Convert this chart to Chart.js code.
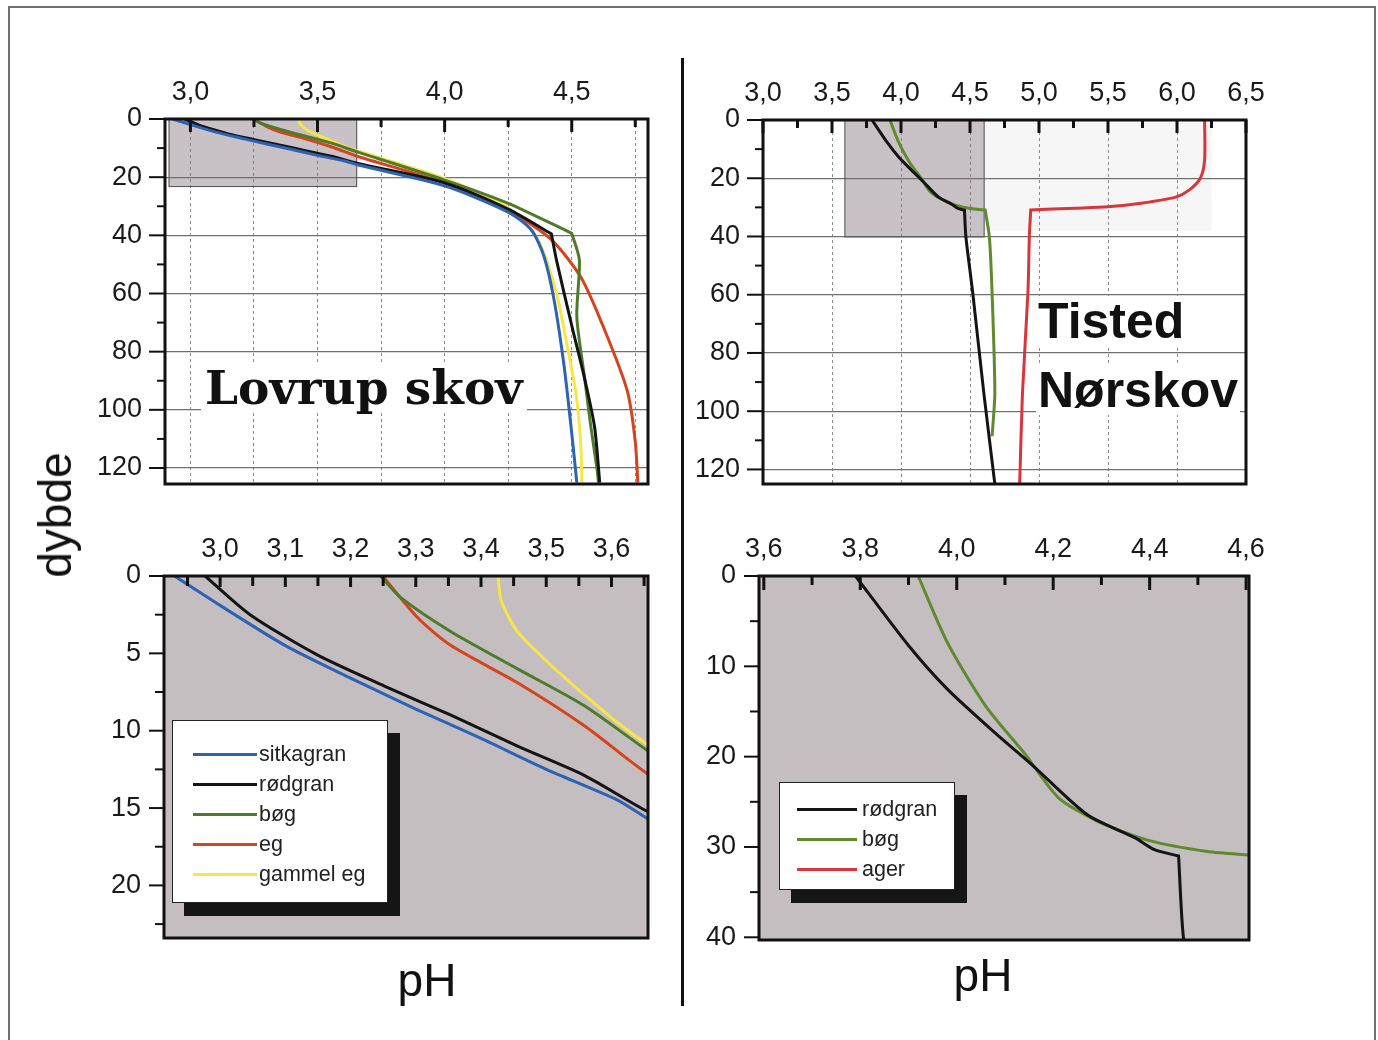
<!DOCTYPE html>
<html>
<head>
<meta charset="utf-8">
<script src="https://cdn.jsdelivr.net/npm/chart.js@4.4.1/dist/chart.umd.min.js"></script>
<style>
  html, body { margin: 0; padding: 0; background: #fff; }
  body { width: 1378px; height: 1040px; position: relative; overflow: hidden; font-family: "Liberation Sans", Arial, sans-serif; }
  canvas { position: absolute; }
  .frame { position: absolute; left: 8px; top: 6px; width: 1368px; height: 1100px; border: 2px solid #707070; box-sizing: border-box; }
  .divider { position: absolute; left: 681px; top: 58px; width: 3px; height: 948px; background: #111; }
  .title { position: absolute; background: #fff; color: #111; white-space: nowrap; line-height: 1; }
  .axis-title { position: absolute; font-size: 46px; color: #111; line-height: 1; transform: translate(-50%, -50%); }
  .legend { position: absolute; background: #fff; border: 1px solid #222; box-shadow: 12px 13px 0 #151515; color: #222; box-sizing: border-box; }
  .legend .row { display: flex; align-items: center; height: 30px; font-size: 21.5px; }
  .legend .sw { height: 3px; }
</style>
</head>
<body>
<div class="frame"></div>

<canvas id="lovrupTop" width="609" height="470" style="left:75px; top:59px;"></canvas>
<canvas id="tistedTop" width="609" height="469" style="left:673px; top:60px;"></canvas>
<canvas id="lovrupZoom" width="610" height="467" style="left:74px; top:516px;"></canvas>
<canvas id="tistedZoom" width="616" height="469" style="left:669px; top:516px;"></canvas>

<div class="divider"></div>

<div class="title" style="left:201px; top:364px; font-family:'DejaVu Serif', serif; font-weight:bold; font-size:47px; padding:0 4px;">Lovrup skov</div>
<div class="title" style="left:1036px; top:296px; font-family:'Liberation Sans', Arial, sans-serif; font-weight:bold; font-size:50px; padding:0 2px;">Tisted</div>
<div class="title" style="left:1036px; top:365px; font-family:'Liberation Sans', Arial, sans-serif; font-weight:bold; font-size:50px; padding:0 2px;">Nørskov</div>

<div class="axis-title" style="left:55px; top:515px; transform: translate(-50%, -50%) rotate(-90deg);">dybde</div>
<div class="axis-title" style="left:427px; top:980px;">pH</div>
<div class="axis-title" style="left:983px; top:975px;">pH</div>

<div class="legend" id="legendLovrup" style="left:172px; top:720px; width:216px; height:183px; padding:18px 0 0 20px;"></div>
<div class="legend" id="legendTisted" style="left:779px; top:782px; width:176px; height:108px; padding:11px 0 0 17px;"></div>

<script>
// ---- Lovrup skov: pH against depth (cm) ----
const lovrupNames = ['sitkagran', 'rødgran', 'bøg', 'eg', 'gammel eg'];
const lovrupColors = ['#2d62b4', '#141414', '#4f7a2b', '#d4441f', '#f7e645'];

const sitkaPH = [2.930, 3.000, 3.100, 3.200, 3.300, 3.400, 3.500, 3.610, 3.660, 4.00, 4.25, 4.34, 4.39, 4.43, 4.47, 4.50, 4.52];
const sitkaDepth = [0, 1.9, 4.5, 6.6, 8.6, 10.5, 12.5, 14.5, 15.8, 23.0, 32.0, 38.0, 47.0, 62.0, 85.0, 108.0, 125.0];

// corner points are listed twice so the curve keeps its kink
const roedLovrupPH = [2.977, 3.046, 3.149, 3.251, 3.354, 3.456, 3.559, 3.659, 4.00, 4.25, 4.42, 4.42, 4.44, 4.50, 4.55, 4.59, 4.61];
const roedLovrupDepth = [0, 2.5, 5.1, 7.1, 9.0, 11.0, 12.9, 15.3, 22.0, 31.0, 39.5, 39.5, 48.5, 71.0, 89.0, 106.0, 125.0];

const boegLovrupPH = [3.246, 3.277, 3.354, 3.456, 3.559, 3.659, 4.00, 4.25, 4.50, 4.50, 4.53, 4.52, 4.55, 4.575, 4.60, 4.605];
const boegLovrupDepth = [0, 1.4, 3.6, 6.0, 8.4, 11.4, 21.0, 29.0, 39.3, 39.3, 48.5, 68.0, 88.6, 105.7, 120.6, 125.0];

const egPH = [3.251, 3.303, 3.354, 3.456, 3.559, 3.659, 4.00, 4.28, 4.42, 4.54, 4.65, 4.72, 4.75, 4.76];
const egDepth = [0.1, 2.7, 4.5, 6.9, 9.7, 12.9, 22.0, 33.0, 41.5, 55.0, 77.0, 94.0, 111.0, 125.0];

const gammelEgPH = [3.426, 3.431, 3.456, 3.508, 3.559, 3.610, 3.659, 4.00, 4.25, 4.37, 4.44, 4.48, 4.516, 4.535, 4.54];
const gammelEgDepth = [0, 1.6, 3.6, 5.8, 7.7, 9.5, 11.0, 20.5, 30.5, 42.0, 60.0, 77.0, 94.0, 111.0, 125.0];

// ---- Tisted Nørskov ----
const tistedNames = ['rødgran', 'bøg', 'ager'];
const tistedColors = ['#141414', '#5f8a30', '#d8363d'];

const roedTistedPH = [3.79, 3.90, 3.98, 4.08, 4.16, 4.27, 4.37, 4.41, 4.46, 4.46, 4.47, 4.52, 4.60, 4.68];
const roedTistedDepth = [0, 7.7, 12.5, 17.4, 21.1, 26.4, 29.0, 30.3, 31.0, 31.0, 40.0, 59.4, 93.7, 125.0];

const boegTistedPH = [3.92, 3.98, 4.06, 4.14, 4.21, 4.29, 4.40, 4.52, 4.61, 4.61, 4.64, 4.66, 4.68, 4.66];
const boegTistedDepth = [0, 7.3, 14.4, 19.6, 24.5, 27.1, 29.3, 30.5, 30.9, 30.9, 40.0, 59.4, 93.7, 108.6];

const agerPH = [6.20, 6.20, 6.17, 6.09, 5.99, 5.74, 5.50, 5.26, 4.94, 4.94, 4.93, 4.92, 4.88, 4.86];
const agerDepth = [0, 13.7, 19.9, 24.0, 26.5, 28.6, 29.8, 30.3, 30.9, 30.9, 40.0, 59.0, 94.0, 125.0];

// ---- tick labels ----
const lovrupTopPHLabels = [3.0, 3.5, 4.0, 4.5];
const tistedTopPHLabels = [3.0, 3.5, 4.0, 4.5, 5.0, 5.5, 6.0, 6.5];
const topDepthLabels = [0, 20, 40, 60, 80, 100, 120];
const lovrupZoomPHLabels = [3.0, 3.1, 3.2, 3.3, 3.4, 3.5, 3.6];
const lovrupZoomDepthLabels = [0, 5, 10, 15, 20];
const tistedZoomPHLabels = [3.6, 3.8, 4.0, 4.2, 4.4, 4.6];
const tistedZoomDepthLabels = [0, 10, 20, 30, 40];

const tickFont = { family: 'Liberation Sans', size: 27 };
const fmtPH = v => v.toFixed(1).replace('.', ',');
const inList = (list, v) => list.some(l => Math.abs(l - v) < 1e-6);

function lines(names, colors, phs, depths) {
    return names.map((name, i) => ({
        label: name,
        data: phs[i].map((p, j) => ({ x: p, y: depths[i][j] })),
        borderColor: colors[i],
        backgroundColor: colors[i],
        borderWidth: 3,
        pointRadius: 0,
        showLine: true,
        tension: 0.25,
        fill: false
    }));
}

// background, shaded zoom windows, inward/outward tick marks and the box frame
function decor(spec) {
    return {
        id: 'decor',
        beforeDraw(chart) {
            const { ctx, chartArea: a, scales: { x, y } } = chart;
            ctx.save();
            if (spec.background) {
                ctx.fillStyle = spec.background;
                ctx.fillRect(a.left, a.top, a.right - a.left, a.bottom - a.top);
            }
            (spec.underBoxes || []).forEach(b => {
                const l = x.getPixelForValue(b.x[0]), r = x.getPixelForValue(b.x[1]);
                const t = y.getPixelForValue(b.y[0]), btm = y.getPixelForValue(b.y[1]);
                ctx.fillStyle = b.fill;
                ctx.fillRect(l, t, r - l, btm - t);
            });
            ctx.restore();
        },
        beforeDatasetsDraw(chart) {
            const { ctx, scales: { x, y } } = chart;
            ctx.save();
            (spec.boxes || []).forEach(b => {
                const l = x.getPixelForValue(b.x[0]), r = x.getPixelForValue(b.x[1]);
                const t = y.getPixelForValue(b.y[0]), btm = y.getPixelForValue(b.y[1]);
                ctx.fillStyle = b.fill;
                ctx.fillRect(l, t, r - l, btm - t);
                ctx.strokeStyle = '#555';
                ctx.lineWidth = 1;
                ctx.strokeRect(l + 0.5, t + 0.5, r - l - 1, btm - t - 1);
            });
            ctx.restore();
        },
        afterDatasetsDraw(chart) {
            const { ctx, chartArea: a, scales: { x, y } } = chart;
            const tk = spec.ticks;
            const seg = (x1, y1, x2, y2, w) => {
                ctx.lineWidth = w;
                ctx.beginPath();
                ctx.moveTo(x1, y1);
                ctx.lineTo(x2, y2);
                ctx.stroke();
            };
            const isMajor = (v, step) => Math.abs(v / step - Math.round(v / step)) < 1e-6;
            ctx.save();
            ctx.strokeStyle = '#111';
            for (let k = Math.ceil(x.min / tk.xMinor - 1e-6); k * tk.xMinor <= x.max + 1e-6; k++) {
                const v = k * tk.xMinor;
                const px = x.getPixelForValue(v);
                seg(px, a.top, px, a.top + (isMajor(v, tk.xMajor) ? tk.xLong : tk.xShort), 3);
            }
            for (let k = Math.ceil(y.min / tk.yMinor - 1e-6); k * tk.yMinor <= y.max + 1e-6; k++) {
                const v = k * tk.yMinor;
                const py = y.getPixelForValue(v);
                seg(a.left - (isMajor(v, tk.yMajor) ? tk.yLong : tk.yShort), py, a.left, py, 2);
            }
            ctx.lineWidth = 3;
            ctx.strokeRect(a.left, a.top, a.right - a.left, a.bottom - a.top);
            ctx.restore();
        }
    };
}

function panel(id, spec) {
    const gridColor = (min, max, color) => c =>
        (c.tick && c.tick.value > min + 1e-6 && c.tick.value < max - 1e-6) ? color : 'rgba(0,0,0,0)';
    return new Chart(document.getElementById(id), {
        type: 'scatter',
        data: { datasets: spec.datasets },
        options: {
            responsive: false,
            animation: false,
            events: [],
            layout: { padding: { left: 0, top: 0, right: 36, bottom: 45 } },
            plugins: { legend: { display: false }, tooltip: { enabled: false } },
            scales: {
                x: {
                    type: 'linear', position: 'top', min: spec.x[0], max: spec.x[1],
                    afterFit: s => { s.height = 60; },
                    border: { display: false, dash: [3, 3] },
                    grid: { display: spec.grid, drawTicks: false, lineWidth: 1, borderDash: [3, 3], color: gridColor(spec.x[0], spec.x[1], '#8c8c8c') },
                    ticks: {
                        stepSize: spec.xStep, includeBounds: false, autoSkip: false, maxRotation: 0, minRotation: 0,
                        padding: 10, color: '#1a1a1a', font: tickFont,
                        callback: v => inList(spec.xLabels, v) ? fmtPH(v) : ''
                    }
                },
                y: {
                    type: 'linear', reverse: true, min: spec.y[0], max: spec.y[1],
                    afterFit: s => { s.width = 90; },
                    border: { display: false },
                    grid: { display: spec.grid, drawTicks: false, lineWidth: 1.2, color: gridColor(spec.y[0], spec.y[1], '#707070') },
                    ticks: {
                        stepSize: spec.yStep, includeBounds: false, autoSkip: false,
                        padding: 23, color: '#1a1a1a', font: tickFont,
                        callback: v => inList(spec.yLabels, v) ? String(v) : ''
                    }
                }
            }
        },
        plugins: [decor(spec)]
    });
}

// zoom windows of the lower panels, also shaded in the upper panels
const lovrupZoomPH = [2.914, 3.656], lovrupZoomDepth = [0, 23.4];
const tistedZoomPH = [3.59, 4.606], tistedZoomDepth = [0, 40.3];
const shade = 'rgba(125,108,118,0.42)';

const lovrupSets = () => lines(lovrupNames, lovrupColors,
    [sitkaPH, roedLovrupPH, boegLovrupPH, egPH, gammelEgPH],
    [sitkaDepth, roedLovrupDepth, boegLovrupDepth, egDepth, gammelEgDepth]);
const tistedSets = () => lines(tistedNames, tistedColors,
    [roedTistedPH, boegTistedPH, agerPH],
    [roedTistedDepth, boegTistedDepth, agerDepth]);

panel('lovrupTop', {
    datasets: lovrupSets(), x: [2.9, 4.8], y: [0, 125.5], xStep: 0.25, yStep: 20, grid: true,
    xLabels: lovrupTopPHLabels, yLabels: topDepthLabels,
    boxes: [{ x: lovrupZoomPH, y: lovrupZoomDepth, fill: shade }],
    ticks: { xMinor: 0.25, xMajor: 0.5, xLong: 13, xShort: 8, yMinor: 10, yMajor: 20, yLong: 16, yShort: 8 }
});

panel('tistedTop', {
    datasets: tistedSets(), x: [3.0, 6.5], y: [0, 125], xStep: 0.5, yStep: 20, grid: true,
    xLabels: tistedTopPHLabels, yLabels: topDepthLabels,
    underBoxes: [{ x: [tistedZoomPH[1], 6.25], y: [0, 38], fill: '#f7f6f7' }],
    boxes: [{ x: tistedZoomPH, y: tistedZoomDepth, fill: shade }],
    ticks: { xMinor: 0.25, xMajor: 0.5, xLong: 13, xShort: 8, yMinor: 10, yMajor: 20, yLong: 16, yShort: 8 }
});

const lovrupZoom = panel('lovrupZoom', {
    datasets: lovrupSets(), x: lovrupZoomPH, y: lovrupZoomDepth, xStep: 0.1, yStep: 5, grid: false,
    xLabels: lovrupZoomPHLabels, yLabels: lovrupZoomDepthLabels, background: '#c5bec0',
    ticks: { xMinor: 0.05, xMajor: 0.1, xLong: 11, xShort: 10, yMinor: 2.5, yMajor: 5, yLong: 15, yShort: 9 }
});

const tistedZoom = panel('tistedZoom', {
    datasets: tistedSets(), x: tistedZoomPH, y: tistedZoomDepth, xStep: 0.2, yStep: 10, grid: false,
    xLabels: tistedZoomPHLabels, yLabels: tistedZoomDepthLabels, background: '#c5bec0',
    ticks: { xMinor: 0.1, xMajor: 0.2, xLong: 14, xShort: 9, yMinor: 5, yMajor: 10, yLong: 15, yShort: 9 }
});

// legends built from the chart datasets
function buildLegend(elId, chart, swatchWidth, gap) {
    const box = document.getElementById(elId);
    chart.data.datasets.forEach(ds => {
        const row = document.createElement('div');
        row.className = 'row';
        const sw = document.createElement('span');
        sw.className = 'sw';
        sw.style.width = swatchWidth + 'px';
        sw.style.marginRight = gap + 'px';
        sw.style.background = ds.borderColor;
        const txt = document.createElement('span');
        txt.textContent = ds.label;
        row.appendChild(sw);
        row.appendChild(txt);
        box.appendChild(row);
    });
}
buildLegend('legendLovrup', lovrupZoom, 64, 2);
buildLegend('legendTisted', tistedZoom, 60, 5);
</script>
</body>
</html>
